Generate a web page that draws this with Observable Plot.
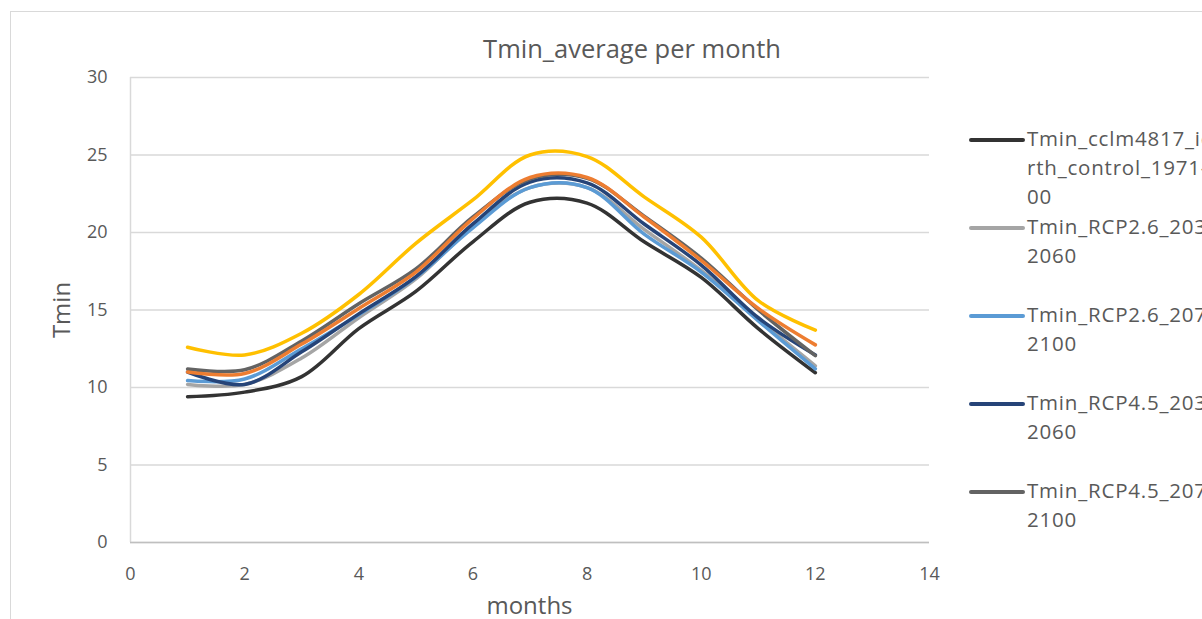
<!DOCTYPE html>
<html>
<head>
<meta charset="utf-8">
<script src="https://cdn.jsdelivr.net/npm/d3@7"></script>
<script src="https://cdn.jsdelivr.net/npm/@observablehq/plot@0.6"></script>
<style>
  html, body { margin: 0; padding: 0; background: #fff; overflow: hidden; }
  body { width: 1202px; height: 619px; position: relative; font-family: "Open Sans", sans-serif; color: #595959; }
  #frame { position: absolute; left: 10px; top: 11px; width: 1300px; height: 700px; border: 1px solid #d9d9d9; box-sizing: border-box; }
  #chart { position: absolute; left: 0; top: 0; }
  .txt { position: absolute; white-space: nowrap; color: #595959; }
  #title { left: 0; width: 1264px; top: 33px; text-align: center; font-size: 25.5px; line-height: 30px; }
  #xtitle { left: 130px; width: 799px; top: 590px; text-align: center; font-size: 24px; line-height: 30px; }
  #ytitle { left: 61px; top: 310px; font-size: 24px; line-height: 30px; transform: translate(-50%, -50%) rotate(-90deg); }
  #legend { position: absolute; left: 968px; top: 124px; width: 234px; height: 420px; overflow: hidden; }
  .entry { position: absolute; left: 0; }
  .entry svg { position: absolute; left: 0; top: 0; }
  .entry .lab { position: absolute; left: 59px; top: 0; font-size: 20.5px; letter-spacing: 0.8px; line-height: 29px; white-space: nowrap; color: #595959; }
</style>
</head>
<body>
<div id="frame"></div>
<div id="chart"></div>
<div id="title" class="txt">Tmin_average per month</div>
<div id="xtitle" class="txt">months</div>
<div id="ytitle" class="txt">Tmin</div>
<div id="legend"></div>
<script>
// ---- data ----
const months = [1, 2, 3, 4, 5, 6, 7, 8, 9, 10, 11, 12];
const seriesNames = [
  "Tmin_cclm4817_ichec-ec-earth_control_1971-2000",
  "Tmin_RCP2.6_2031-2060",
  "Tmin_RCP2.6_2071-2100",
  "Tmin_RCP4.5_2031-2060",
  "Tmin_RCP4.5_2071-2100",
  "Tmin_RCP8.5_2031-2060",
  "Tmin_RCP8.5_2071-2100"
];
const legendLines = [
  ["Tmin_cclm4817_ichec-ec-ea", "rth_control_1971-20", "00"],
  ["Tmin_RCP2.6_2031-", "2060"],
  ["Tmin_RCP2.6_2071-", "2100"],
  ["Tmin_RCP4.5_2031-", "2060"],
  ["Tmin_RCP4.5_2071-", "2100"],
  ["Tmin_RCP8.5_2031-", "2060"],
  ["Tmin_RCP8.5_2071-", "2100"]
];
const controlValues = [9.4, 9.7, 10.7, 13.8, 16.2, 19.4, 21.95, 21.9, 19.4, 17.1, 13.8, 10.95];
const rcp26a = [10.2, 10.2, 11.9, 14.5, 17.0, 20.4, 22.9, 22.9, 20.2, 17.55, 14.4, 11.4];
const rcp26b = [10.45, 10.55, 12.5, 14.7, 17.1, 20.3, 22.9, 22.9, 19.9, 17.45, 14.3, 11.2];
const rcp45a = [11.0, 10.2, 12.3, 14.75, 17.15, 20.55, 23.25, 23.2, 20.55, 17.9, 14.5, 12.1];
const rcp45b = [11.2, 11.15, 13.0, 15.4, 17.65, 21.0, 23.45, 23.5, 21.05, 18.35, 15.0, 12.05];
const rcp85a = [11.0, 10.9, 12.8, 15.1, 17.45, 20.9, 23.55, 23.55, 21.0, 18.2, 15.1, 12.75];
const rcp85b = [12.6, 12.1, 13.5, 16.0, 19.3, 22.1, 25.0, 24.9, 22.3, 19.7, 15.6, 13.7];
const seriesValues = [controlValues, rcp26a, rcp26b, rcp45a, rcp45b, rcp85a, rcp85b];
const seriesColors = ["#333333", "#a5a5a5", "#5b9bd5", "#264478", "#636363", "#ed7d31", "#ffc000"];
const xTicks = [0, 2, 4, 6, 8, 10, 12, 14];
const yTicks = [0, 5, 10, 15, 20, 25, 30];
const legendShown = 5;

// ---- build ----
const rows = [];
seriesNames.forEach((name, i) => {
  months.forEach((m, j) => rows.push({series: name, month: m, value: seriesValues[i][j]}));
});

const lineMarks = seriesNames.map(name =>
  Plot.line(rows.filter(d => d.series === name), {
    x: "month", y: "value", stroke: "series", strokeWidth: 3.5, curve: "catmull-rom",
    strokeLinecap: "round", strokeLinejoin: "round"
  })
);

const chart = Plot.plot({
  width: 1202,
  height: 619,
  marginLeft: 130,
  marginRight: 273,
  marginTop: 77,
  marginBottom: 77,
  style: {fontFamily: "Open Sans, sans-serif", fontSize: "18px", color: "#595959", background: "transparent", overflow: "visible"},
  x: {domain: [0, 14], ticks: xTicks},
  y: {domain: [0, 30], ticks: yTicks},
  color: {domain: seriesNames, range: seriesColors},
  marks: [
    Plot.gridY(yTicks, {stroke: "#d9d9d9", strokeOpacity: 1, strokeWidth: 1.5}),
    Plot.ruleX([0], {stroke: "#d9d9d9", strokeWidth: 1.5}),
    Plot.ruleY([0], {stroke: "#bfbfbf", strokeWidth: 1.5}),
    Plot.axisX(xTicks, {tickSize: 0, tickPadding: 25, label: null, fill: "#595959", fontSize: 18}),
    Plot.axisY(yTicks, {tickSize: 0, tickPadding: 23, label: null, fill: "#595959", fontSize: 18}),
    ...lineMarks
  ]
});
document.getElementById("chart").appendChild(chart);

// legend (only the entries that fit are shown, as in the reference)
const legend = document.getElementById("legend");
seriesNames.slice(0, legendShown).forEach((name, i) => {
  const e = document.createElement("div");
  e.className = "entry";
  e.style.top = (i * 88) + "px";
  e.innerHTML = `<svg width="60" height="30"><line x1="3" x2="55" y1="16" y2="16" stroke="${seriesColors[i]}" stroke-width="4" stroke-linecap="round"/></svg>` +
    `<div class="lab">${legendLines[i].join("<br>")}</div>`;
  legend.appendChild(e);
});
</script>
</body>
</html>
